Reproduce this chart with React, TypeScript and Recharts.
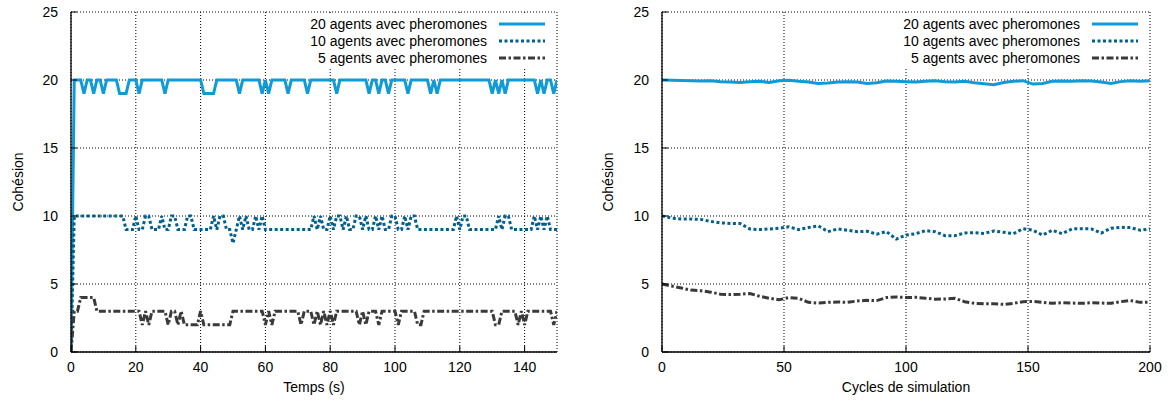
import React from "react";
import { LineChart, Line, XAxis, YAxis, CartesianGrid, Legend } from "recharts";

const FONT = '"Liberation Sans", Arial, Helvetica, sans-serif';

// Panneau gauche : un point par seconde, de 0 à 150 s
const left20 = [
  0, 20, 20, 20, 19, 20, 20, 19, 20, 20,
  19, 20, 20, 20, 20, 19, 19, 19, 20, 20,
  20, 19, 20, 20, 20, 20, 20, 20, 20, 19,
  20, 20, 20, 20, 20, 20, 20, 20, 20, 20,
  20, 19, 19, 19, 19, 20, 20, 20, 20, 20,
  20, 20, 19, 20, 20, 20, 20, 20, 20, 19,
  20, 19, 20, 20, 20, 20, 20, 19, 20, 20,
  20, 20, 20, 19, 20, 20, 20, 20, 20, 20,
  20, 20, 19, 20, 20, 20, 20, 20, 20, 20,
  20, 20, 19, 20, 20, 19, 20, 20, 19, 20,
  20, 20, 20, 20, 19, 20, 20, 20, 20, 20,
  20, 19, 20, 19, 20, 20, 20, 20, 20, 20,
  20, 20, 20, 20, 20, 20, 20, 20, 20, 20,
  19, 20, 19, 20, 19, 20, 20, 20, 20, 20,
  20, 20, 20, 20, 19, 20, 19, 20, 20, 19,
  20,
];

const left10 = [
  0, 10, 10, 10, 10, 10, 10, 10, 10, 10,
  10, 10, 10, 10, 10, 10, 10, 9, 9, 9,
  10, 9, 9, 10, 10, 9, 9, 9, 10, 9,
  9, 10, 10, 9, 9, 9, 10, 10, 9, 9,
  9, 9, 9, 9, 10, 9, 10, 10, 9, 9,
  8, 9, 10, 9, 10, 9, 9, 10, 9, 10,
  9, 9, 9, 9, 9, 9, 9, 9, 9, 9,
  9, 9, 9, 9, 9, 10, 9, 10, 9, 9,
  10, 9, 10, 10, 9, 10, 9, 9, 10, 10,
  9, 10, 9, 9, 10, 9, 10, 9, 9, 10,
  10, 9, 9, 10, 9, 10, 10, 9, 9, 9,
  9, 9, 9, 9, 9, 9, 9, 9, 9, 10,
  9, 10, 10, 9, 9, 9, 9, 9, 9, 9,
  9, 9, 10, 9, 10, 10, 9, 9, 9, 9,
  9, 9, 9, 10, 9, 10, 9, 10, 9, 9,
  9,
];

const left5 = [
  0, 3, 3, 4, 4, 4, 4, 4, 3, 3,
  3, 3, 3, 3, 3, 3, 3, 3, 3, 3,
  3, 3, 2, 3, 2, 3, 3, 3, 3, 3,
  2, 3, 3, 2, 3, 2, 2, 2, 2, 2,
  3, 2, 2, 2, 2, 2, 2, 2, 2, 2,
  3, 3, 3, 3, 3, 3, 3, 3, 3, 3,
  2, 3, 2, 3, 3, 3, 3, 3, 3, 3,
  3, 2, 3, 3, 3, 2, 3, 2, 3, 2,
  3, 2, 3, 3, 3, 3, 3, 3, 3, 2,
  3, 2, 3, 3, 3, 2, 3, 3, 3, 3,
  3, 2, 3, 3, 3, 3, 3, 2, 2, 3,
  3, 3, 3, 3, 3, 3, 3, 3, 3, 3,
  3, 3, 3, 3, 3, 3, 3, 3, 3, 3,
  3, 2, 2, 3, 3, 3, 3, 3, 2, 3,
  2, 3, 3, 3, 3, 3, 3, 3, 3, 2,
  3,
];

// Panneau droit : un point tous les 4 cycles
const rightCycles = [
  0, 4, 8, 12, 16, 20, 24, 28, 32, 36,
  40, 44, 48, 52, 56, 60, 64, 68, 72, 76,
  80, 84, 88, 92, 96, 100, 104, 108, 112, 116,
  120, 124, 128, 132, 136, 140, 144, 148, 152, 156,
  160, 164, 168, 172, 176, 180, 184, 188, 192, 196,
  200,
];

const right20 = [
  20.0, 19.98, 19.96, 19.95, 19.93, 19.95, 19.88, 19.85, 19.82, 19.88,
  19.9, 19.82, 19.95, 19.98, 19.9, 19.85, 19.75, 19.78, 19.85, 19.88,
  19.86, 19.75, 19.8, 19.92, 19.9, 19.88, 19.85, 19.9, 19.95, 19.88,
  19.85, 19.9, 19.8, 19.72, 19.65, 19.82, 19.9, 19.95, 19.7, 19.75,
  19.9, 19.92, 19.9, 19.95, 19.92, 19.85, 19.75, 19.88, 19.95, 19.9,
  19.95,
];

const right10 = [
  10, 9.85, 9.78, 9.78, 9.75, 9.6, 9.5, 9.45, 9.45, 9.05,
  9.0, 9.05, 9.1, 9.2, 9.0, 9.15, 9.28, 8.85, 9.05, 8.95,
  8.85, 8.88, 8.67, 8.85, 8.3, 8.6, 8.7, 8.92, 8.85, 8.55,
  8.55, 8.75, 8.78, 8.72, 8.9, 8.8, 8.7, 9.07, 8.95, 8.6,
  8.95, 8.7, 9.05, 9.07, 9.05, 8.75, 9.1, 9.17, 9.15, 8.95,
  9.05,
];

const right5 = [
  5.0, 4.85, 4.7, 4.55, 4.5, 4.4, 4.25, 4.22, 4.25, 4.3,
  4.1, 3.95, 3.84, 4.0, 3.95, 3.65, 3.6, 3.65, 3.68, 3.65,
  3.75, 3.8, 3.78, 4.0, 4.05, 4.0, 4.02, 3.95, 3.88, 3.9,
  3.95, 3.7, 3.58, 3.55, 3.55, 3.5, 3.58, 3.7, 3.72, 3.65,
  3.58, 3.62, 3.6, 3.58, 3.62, 3.6, 3.58, 3.7, 3.78, 3.65,
  3.65,
];

const leftTicksX = [0, 20, 40, 60, 80, 100, 120, 140];
const rightTicksX = [0, 50, 100, 150, 200];
const ticksY = [0, 5, 10, 15, 20, 25];

const seriesNames = [
  "20 agents avec pheromones",
  "10 agents avec pheromones",
  "5 agents avec pheromones",
];

const leftData = left20.map((v, i) => ({ t: i, a20: v, a10: left10[i], a5: left5[i] }));
const rightData = rightCycles.map((c, i) => ({ t: c, a20: right20[i], a10: right10[i], a5: right5[i] }));

const series = [
  { key: "a20", name: seriesNames[0], color: "#0f9bd8", dash: undefined as string | undefined },
  { key: "a10", name: seriesNames[1], color: "#005f8c", dash: "3 2.5" },
  { key: "a5", name: seriesNames[2], color: "#3a3a3a", dash: "7 2.5 2.5 2.5" },
];

const tickStyle = { fill: "#000", fontSize: 14, fontFamily: FONT };

// cadre de la légende, opaque comme dans gnuplot
function LegendBox() {
  return (
    <svg width={256} height={54} style={{ display: "block", background: "#fff" }}>
      {series.map((s, i) => {
        const cy = 10 + i * 17;
        return (
          <g key={s.key}>
            <text x={191} y={cy + 5} textAnchor="end" fontSize={14} fontFamily={FONT} fill="#000">
              {s.name}
            </text>
            <line x1={203} x2={249} y1={cy} y2={cy} stroke={s.color} strokeWidth={3} strokeDasharray={s.dash} />
          </g>
        );
      })}
    </svg>
  );
}

function Panel({ data, width, xTicks, xMax, xLabel, marginRight, yWidth, legendLeft }: any) {
  const yLabel = ({ viewBox }: any) => {
    const cx = viewBox.x + 18;
    const cy = viewBox.y + viewBox.height / 2;
    return (
      <text x={cx} y={cy} transform={`rotate(-90 ${cx} ${cy})`} textAnchor="middle" dominantBaseline="central"
        fontSize={14} fontFamily={FONT} fill="#000">
        Cohésion
      </text>
    );
  };
  const xLab = ({ viewBox }: any) => (
    <text x={viewBox.x + viewBox.width / 2} y={viewBox.y + 40} textAnchor="middle" fontSize={14} fontFamily={FONT} fill="#000">
      {xLabel}
    </text>
  );

  return (
    <LineChart width={width} height={403} data={data} margin={{ top: 12, right: marginRight, bottom: 6, left: 0 }}>
      <CartesianGrid stroke="#000" strokeWidth={1} strokeDasharray="1 2" />
      <XAxis dataKey="t" type="number" domain={[0, xMax]} ticks={xTicks} allowDataOverflow height={45}
        tick={tickStyle} tickSize={-6} tickMargin={16} axisLine={{ stroke: "#000", strokeWidth: 1.3 }}
        tickLine={{ stroke: "#000" }} label={xLab} />
      <XAxis xAxisId="top" orientation="top" type="number" domain={[0, xMax]} ticks={xTicks} allowDataOverflow height={0}
        tick={false} tickSize={-6} axisLine={{ stroke: "#000", strokeWidth: 1.3 }} tickLine={{ stroke: "#000" }} />
      <YAxis type="number" domain={[0, 25]} ticks={ticksY} allowDataOverflow width={yWidth}
        tick={tickStyle} tickSize={-6} tickMargin={19} axisLine={{ stroke: "#000", strokeWidth: 1.3 }}
        tickLine={{ stroke: "#000" }} label={yLabel} />
      <YAxis yAxisId="right" orientation="right" type="number" domain={[0, 25]} ticks={ticksY} allowDataOverflow width={0}
        tick={false} tickSize={-6} axisLine={{ stroke: "#000", strokeWidth: 1.3 }} tickLine={{ stroke: "#000" }} />
      {series.map((s) => (
        <Line key={s.key} type="linear" dataKey={s.key} name={s.name} stroke={s.color} strokeWidth={3}
          strokeDasharray={s.dash} dot={false} activeDot={false} isAnimationActive={false} />
      ))}
      <Legend layout="horizontal" verticalAlign="middle" align="center" content={() => <LegendBox />}
        wrapperStyle={{ top: 14, left: legendLeft, width: 256, height: 54 }} />
    </LineChart>
  );
}

export default function App() {
  return (
    <div style={{ position: "absolute", left: 0, top: 0, width: 1175, height: 403, background: "#fff", display: "flex" }}>
      <Panel data={leftData} width={590} xTicks={leftTicksX} xMax={150} xLabel="Temps (s)"
        marginRight={33} yWidth={71} legendLeft={296} />
      <Panel data={rightData} width={585} xTicks={rightTicksX} xMax={200} xLabel="Cycles de simulation"
        marginRight={25} yWidth={72} legendLeft={299} />
    </div>
  );
}
